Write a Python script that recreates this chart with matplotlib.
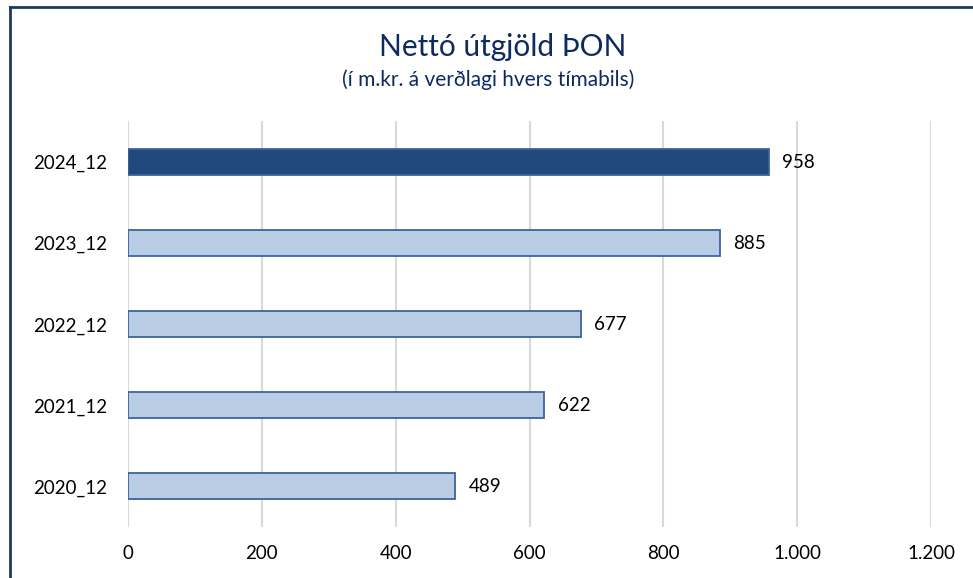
import matplotlib
matplotlib.use("Agg")
import matplotlib.pyplot as plt
from matplotlib.lines import Line2D

categories = ["2020_12", "2021_12", "2022_12", "2023_12", "2024_12"]
values = [489, 622, 677, 885, 958]
xticks = [0, 200, 400, 600, 800, 1000, 1200]
xticklabels = ["0", "200", "400", "600", "800", "1.000", "1.200"]
title = "Nettó útgjöld ÞON"
subtitle = "(í m.kr. á verðlagi hvers tímabils)"

plt.rcParams['font.family'] = ['Lato', 'DejaVu Sans']

W, H = 973, 578
fig = plt.figure(figsize=(W/100, H/100), dpi=100)
ax = fig.add_axes([128/W, 1-527/H, (931-128)/W, (527-121.5)/H])

dark = "#214A7C"
light = "#B9CDE5"
edge = "#3C63A0"
colors = [light]*4 + [dark]
ypos = list(range(len(categories)))
ax.barh(ypos, values, height=0.32, color=colors, edgecolor=edge, linewidth=1.3, zorder=3)
for y, v in zip(ypos, values):
    ax.text(v + 20, y, f"{v}", va="center", ha="left", fontsize=13.5, color="black")

ax.set_xlim(0, 1200)
ax.set_ylim(-0.5, 4.5)
ax.set_xticks(xticks)
ax.set_xticklabels(xticklabels, fontsize=13.5)
ax.set_yticks(ypos)
ax.set_yticklabels(categories, fontsize=13.5)
ax.tick_params(axis='both', length=0)
ax.tick_params(axis='y', pad=15)
ax.tick_params(axis='x', pad=13)
for s in ax.spines.values():
    s.set_visible(False)
ax.grid(axis='x', color="#D9D9D9", linewidth=1.5, zorder=0)
ax.set_axisbelow(True)

fig.text(503/W, 1-47/H, title, ha="center", va="center", fontsize=21.5, color="#0E2A62")
fig.text(488/W, 1-80/H, subtitle, ha="center", va="center", fontsize=15, color="#0E2A62")

# frame border (cropped chart frame)
fig.add_artist(Line2D([10/W, 10/W], [0, 1-7/H], transform=fig.transFigure, color="#1F3864", linewidth=2))
fig.add_artist(Line2D([10/W, 1], [1-7/H, 1-7/H], transform=fig.transFigure, color="#1F3864", linewidth=2))

fig.savefig("out.png", dpi=100)
